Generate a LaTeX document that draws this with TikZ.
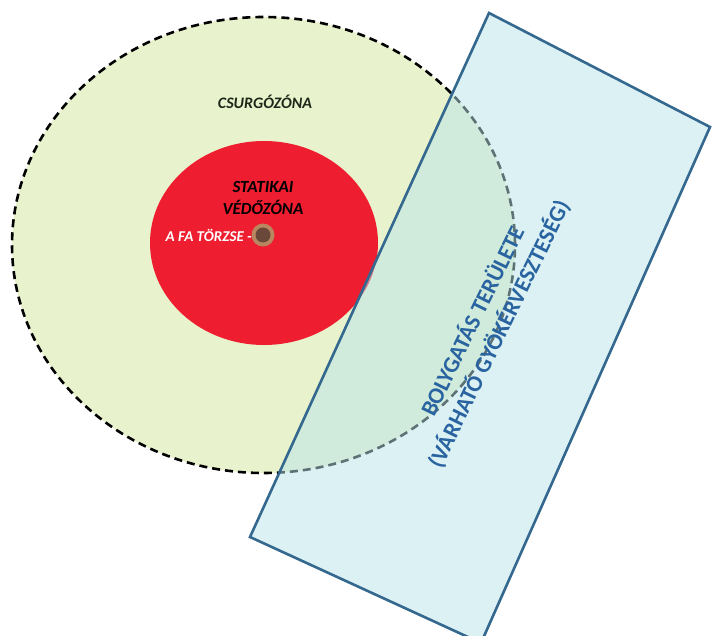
\documentclass[tikz,border=0pt]{standalone}
\usepackage{fontspec}
\setmainfont{Carlito}
\usetikzlibrary{shapes.geometric}
\definecolor{dripfill}{RGB}{232,242,204}
\definecolor{statred}{RGB}{238,30,48}
\definecolor{zonefill}{RGB}{185,229,235}
\definecolor{zoneline}{RGB}{52,104,142}
\definecolor{zonetext}{RGB}{42,100,160}
\definecolor{trunkring}{RGB}{185,135,95}
\definecolor{trunkcore}{RGB}{105,72,58}
\definecolor{labeldark}{RGB}{30,38,25}
\tikzset{
  zonebox/.style={draw=zoneline, line width=2.6pt, fill=zonefill, fill opacity=0.5, line join=miter},
  dripzone/.style={ellipse, inner sep=0pt, fill=dripfill, draw=black, line width=2.6pt, dash pattern=on 8pt off 5pt},
  statzone/.style={ellipse, inner sep=0pt, fill=statred, draw=none},
  labelbi/.style={font=\bfseries\itshape\fontsize{17}{22}\selectfont, align=center, inner sep=0pt}
}
\begin{document}
\begin{tikzpicture}[x=1pt, y=-1pt]
\useasboundingbox (0,0) rectangle (712,636);
\clip (0,0) rectangle (712,636);
\fill[white] (0,0) rectangle (712,636);
% drip zone
\node[dripzone, minimum width=503pt, minimum height=456pt] (drip) at (263.5,245) {};
% static protection zone
\node[statzone, minimum width=228pt, minimum height=204pt] (stat) at (264,243) {};
% trunk
\node[circle, fill=trunkring, minimum size=23pt, inner sep=0pt] (trunk) at (263,235) {};
\node[circle, fill=trunkcore, minimum size=15pt, inner sep=0pt] (core) at (trunk.center) {};
% labels
\node[labelbi, text=labeldark, font=\bfseries\itshape\fontsize{16}{20}\selectfont] (driplabel) at (265,102) {CSURGÓZÓNA};
\node[labelbi, text=black] (statlabel) at (263,198) {STATIKAI\\VÉDŐZÓNA};
\node[labelbi, text=white, font=\bfseries\itshape\fontsize{15}{18}\selectfont, anchor=east] (trunklabel) at (252,235.5) {A FA TÖRZSE -};
% disturbance area
\coordinate (r1) at (489,13);
\coordinate (r2) at (710,127);
\coordinate (r3) at (481,643);
\coordinate (r4) at (250,537);
\draw[zonebox] (r1) -- (r2) -- (r3) -- (r4) -- cycle;
\node[text=zonetext, font=\bfseries\fontsize{23}{29}\selectfont, align=center, rotate=64, inner sep=0pt] (zonelabel) at (485.5,327.5) {BOLYGATÁS TERÜLETE\\(VÁRHATÓ GYÖKÉRVESZTESÉG)};
\end{tikzpicture}
\end{document}
